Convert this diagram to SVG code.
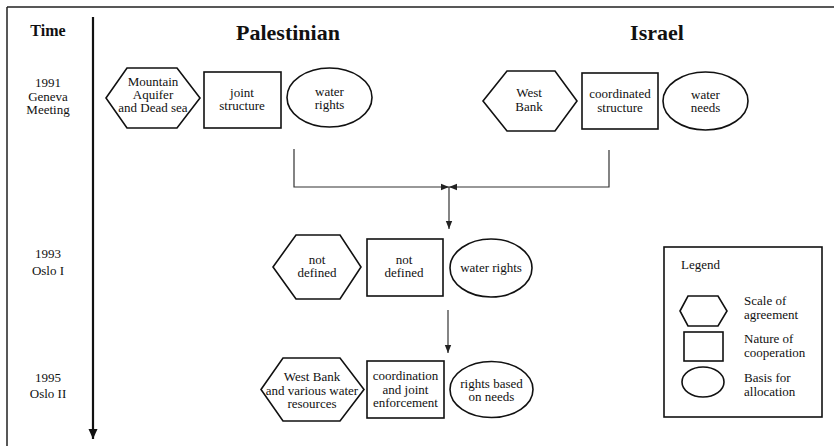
<svg xmlns="http://www.w3.org/2000/svg" width="834" height="446" viewBox="0 0 834 446">
<style>
text{font-family:"Liberation Serif","Times New Roman",serif;fill:#111;}
.t{font-size:13px;text-anchor:middle;}
.l{font-size:13px;}
.h{font-weight:bold;text-anchor:middle;}
.s{fill:#fff;stroke:#111;stroke-width:1.6;}
.c{fill:none;stroke:#333;stroke-width:1.2;}
</style>
<defs>
<marker id="a" viewBox="0 0 8 8" refX="8" refY="4" markerWidth="8" markerHeight="8" markerUnits="userSpaceOnUse" orient="auto"><path d="M0,0.8 L8,4 L0,7.2 Z" fill="#222"/></marker>
<marker id="b" viewBox="0 0 10 10" refX="10" refY="5" markerWidth="10" markerHeight="10" markerUnits="userSpaceOnUse" orient="auto"><path d="M0,0.5 L10,5 L0,9.5 Z" fill="#111"/></marker>
</defs>
<g id="frame">
<path d="M7,7 H834 M7,7 V446" fill="none" stroke="#222" stroke-width="1.5"/>
</g>
<g id="timeline">
<line x1="93" y1="17" x2="93" y2="439" stroke="#111" stroke-width="2.2" marker-end="url(#b)"/>
<text class="h" x="48" y="36" font-size="16">Time</text>
<text class="t" x="48" y="87">1991</text>
<text class="t" x="48" y="100.5">Geneva</text>
<text class="t" x="48" y="114">Meeting</text>
<text class="t" x="48" y="258">1993</text>
<text class="t" x="48" y="275">Oslo I</text>
<text class="t" x="48" y="382">1995</text>
<text class="t" x="48" y="398">Oslo II</text>
</g>
<g id="headers">
<text class="h" x="288" y="40" font-size="22">Palestinian</text>
<text class="h" x="657" y="40" font-size="22">Israel</text>
</g>
<g id="connectors">
<path class="c" d="M294,149 V187 H449" marker-end="url(#a)"/>
<path class="c" d="M609,150 V187 H449" marker-end="url(#a)"/>
<path class="c" d="M449,187 V229" marker-end="url(#a)"/>
<path class="c" d="M448,310 V353" marker-end="url(#a)"/>
</g>
<g id="p1991-scale">
<polygon class="s" points="106,98 127,68 177,68 200,98 177,128 127,128"/>
<text class="t" x="153" y="85.5">Mountain</text>
<text class="t" x="153" y="98.5">Aquifer</text>
<text class="t" x="153" y="111.5">and Dead sea</text>
</g>
<g id="p1991-nature">
<rect class="s" x="204" y="72" width="77" height="56"/>
<text class="t" x="242" y="96.5">joint</text>
<text class="t" x="242" y="109.5">structure</text>
</g>
<g id="p1991-basis">
<ellipse class="s" cx="329.5" cy="97.5" rx="42.5" ry="29.5"/>
<text class="t" x="329.5" y="96">water</text>
<text class="t" x="329.5" y="109">rights</text>
</g>
<g id="i1991-scale">
<polygon class="s" points="483,101 507,71 555,71 577,101 555,131 507,131"/>
<text class="t" x="529" y="96.5">West</text>
<text class="t" x="529" y="111">Bank</text>
</g>
<g id="i1991-nature">
<rect class="s" x="582" y="73" width="76" height="56"/>
<text class="t" x="620" y="97.5">coordinated</text>
<text class="t" x="620" y="111.5">structure</text>
</g>
<g id="i1991-basis">
<ellipse class="s" cx="705.5" cy="101" rx="42.5" ry="29"/>
<text class="t" x="705.5" y="98.5">water</text>
<text class="t" x="705.5" y="111.5">needs</text>
</g>
<g id="o1993-scale">
<polygon class="s" points="273,267 296,235 340,235 361,267 340,299 296,299"/>
<text class="t" x="317" y="263.5">not</text>
<text class="t" x="317" y="277">defined</text>
</g>
<g id="o1993-nature">
<rect class="s" x="367" y="239" width="76" height="57"/>
<text class="t" x="404" y="264">not</text>
<text class="t" x="404" y="277">defined</text>
</g>
<g id="o1993-basis">
<ellipse class="s" cx="491" cy="268" rx="41" ry="29"/>
<text class="t" x="491" y="271.5">water rights</text>
</g>
<g id="o1995-scale">
<polygon class="s" points="261,389.5 283,358 340,358 364,389.5 340,421 283,421"/>
<text class="t" x="312" y="380.5">West Bank</text>
<text class="t" x="312" y="394.5">and various water</text>
<text class="t" x="312" y="407.5">resources</text>
</g>
<g id="o1995-nature">
<rect class="s" x="367" y="361" width="77" height="57"/>
<text class="t" x="405.5" y="380">coordination</text>
<text class="t" x="405.5" y="393.5">and joint</text>
<text class="t" x="405.5" y="406.5">enforcement</text>
</g>
<g id="o1995-basis">
<ellipse class="s" cx="491.5" cy="389.5" rx="41.5" ry="28"/>
<text class="t" x="491.5" y="387.5">rights based</text>
<text class="t" x="491.5" y="400.5">on needs</text>
</g>
<g id="legend">
<rect class="s" x="664" y="247" width="158" height="170"/>
<text class="l" x="681" y="268.5">Legend</text>
<polygon class="s" points="680,311 688,296 718,296 727,311 718,326 688,326"/>
<rect class="s" x="684" y="332" width="39" height="29"/>
<ellipse class="s" cx="703" cy="382" rx="21" ry="15"/>
<text class="l" x="744" y="304.5">Scale of</text>
<text class="l" x="744" y="318.5">agreement</text>
<text class="l" x="744" y="342.5">Nature of</text>
<text class="l" x="744" y="356.5">cooperation</text>
<text class="l" x="744" y="381.5">Basis for</text>
<text class="l" x="744" y="395.5">allocation</text>
</g>
</svg>
